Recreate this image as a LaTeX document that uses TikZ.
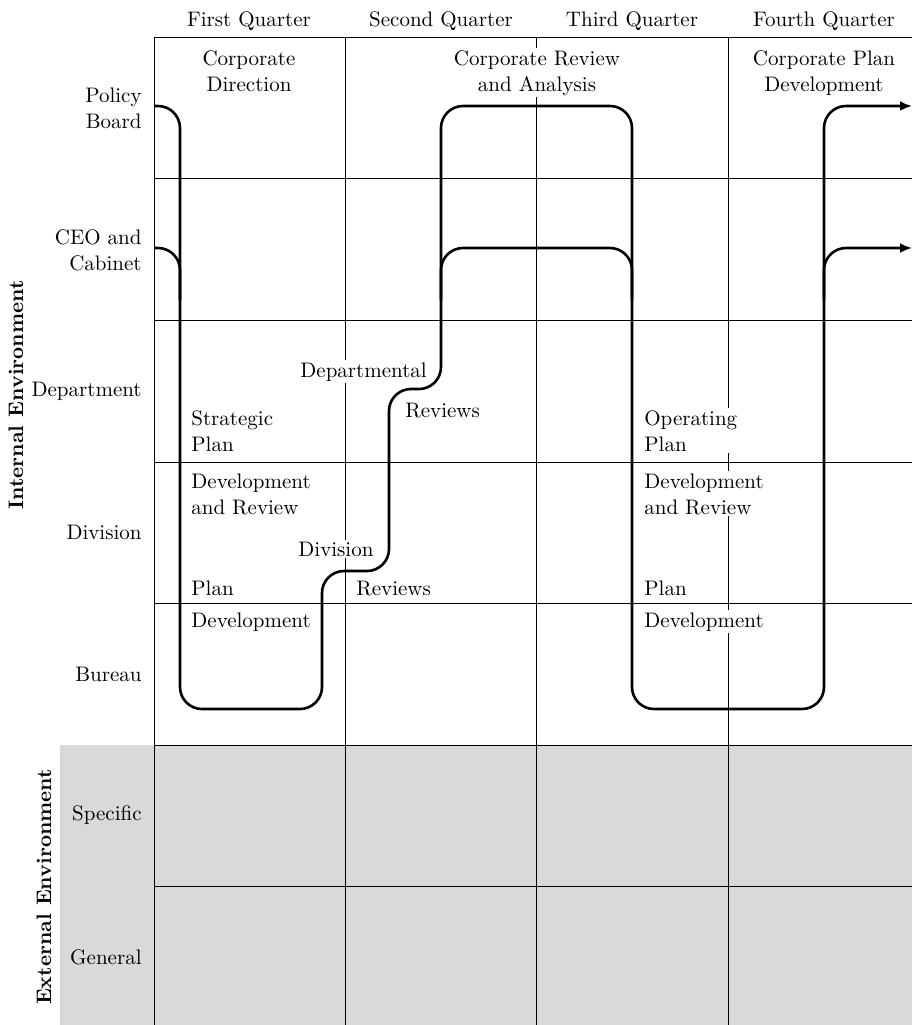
\documentclass[tikz,border=0pt]{standalone}
\usetikzlibrary{arrows.meta}

\begin{document}
\begin{tikzpicture}[x=0.5pt, y=-0.5pt,
		grid/.style={line width=0.5pt},
		flow/.style={line width=1.3pt, rounded corners=11pt},
		head/.style={font=\fontsize{10.5}{13}\selectfont, anchor=base, inner sep=0pt},
		rowlbl/.style={font=\fontsize{10.5}{13}\selectfont, anchor=east, align=right, inner sep=0pt},
		side/.style={font=\fontsize{10.5}{13}\selectfont\bfseries, rotate=90, inner sep=0pt},
		lbl/.style={font=\fontsize{10.5}{13}\selectfont, fill=white, inner sep=1pt, align=left, anchor=base west},
		clbl/.style={lbl, align=center, anchor=base}]
			\useasboundingbox (0,0) rectangle (912,1025);
			
			\fill [black!15] (60,745) rectangle (912,1025);
			
			\draw [grid] (154,37) -- (912,37);
			\draw [grid] (154,178) -- (912,178);
			\draw [grid] (154,320) -- (912,320);
			\draw [grid] (154,462) -- (912,462);
			\draw [grid] (154,603) -- (912,603);
			\draw [grid] (154,745) -- (912,745);
			\draw [grid] (154,886) -- (912,886);
			\draw [grid] (154,37) -- (154,1025);
			\draw [grid] (345,37) -- (345,1025);
			\draw [grid] (536,37) -- (536,1025);
			\draw [grid] (728,37) -- (728,1025);
			
			\node [head] (q1) at (249,26) {First Quarter};
			\node [head] (q2) at (441,26) {Second Quarter};
			\node [head] (q3) at (632,26) {Third Quarter};
			\node [head] (q4) at (824,26) {Fourth Quarter};
			
			\node [rowlbl] (board) at (142,108) {Policy\\Board};
			\node [rowlbl] (ceo) at (142,250) {CEO and\\Cabinet};
			\node [rowlbl] (dept) at (142,391) {Department};
			\node [rowlbl] (div) at (142,532) {Division};
			\node [rowlbl] (bureau) at (142,674) {Bureau};
			\node [rowlbl] (specific) at (142,815) {Specific};
			\node [rowlbl] (general) at (142,957) {General};
			
			\node [side] (internal) at (16,395) {Internal Environment};
			\node [side] (external) at (44,887) {External Environment};
			
			\draw [flow, -{Latex[length=6pt, width=5pt]}] (154,106) -- (180,106) -- (180,709) -- (322,709) -- (322,571) -- (389,571) -- (389,389) -- (441,389) -- (441,106) -- (632,106) -- (632,709) -- (824,709) -- (824,106) -- (912,106);
			\draw [flow] (154,248) -- (180,248) -- (180,300);
			\draw [flow] (441,300) -- (441,248) -- (632,248) -- (632,300);
			\draw [flow, -{Latex[length=6pt, width=5pt]}] (824,300) -- (824,248) -- (912,248);
			
			\node [clbl] (direction) at (249,91) {Corporate\\Direction};
			\node [clbl] (analysis) at (537,91) {Corporate Review\\and Analysis};
			\node [clbl] (cplan) at (824,91) {Corporate Plan\\Development};
			
			\node [lbl] (deptrev) at (298,377) {Departmental};
			\node [lbl] (deptrev2) at (403,417) {Reviews};
			\node [lbl] (divrev) at (296,556) {Division};
			\node [lbl] (divrev2) at (354,595) {Reviews};
			
			\node [lbl] (strat) at (189,451) {Strategic\\Plan};
			\node [lbl] (strat2) at (189,514) {Development\\and Review};
			\node [lbl] (splan) at (189,595) {Plan};
			\node [lbl] (splan2) at (189,627) {Development};
			
			\node [lbl] (oper) at (642,451) {Operating\\Plan};
			\node [lbl] (oper2) at (642,514) {Development\\and Review};
			\node [lbl] (oplan) at (642,595) {Plan};
			\node [lbl] (oplan2) at (642,627) {Development};
		\end{tikzpicture}
\end{document}
